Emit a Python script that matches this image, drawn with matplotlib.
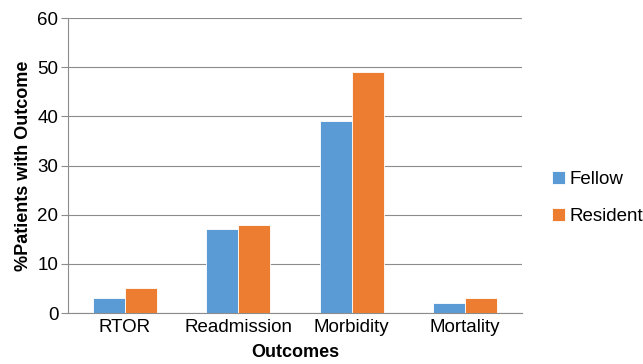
import numpy as np
import matplotlib.pyplot as plt

plt.rcParams['font.family'] = ['Liberation Sans', 'DejaVu Sans']

categories = ['RTOR', 'Readmission', 'Morbidity', 'Mortality']
fellow = [3, 17, 39, 2]
resident = [5, 18, 49, 3]

fig = plt.figure(figsize=(6.43, 3.64), dpi=100)
ax = fig.add_axes([0.1058, 0.1401, 0.706, 0.8104])

x = np.arange(len(categories))
w = 0.28
ax.bar(x - w/2, fellow, w, color='#5B9BD5', edgecolor='white', linewidth=0.6, label='Fellow', zorder=3)
ax.bar(x + w/2, resident, w, color='#ED7D31', edgecolor='white', linewidth=0.6, label='Resident', zorder=3)

ax.set_xlim(-0.5, 3.5)
ax.set_ylim(0, 60)
ax.set_yticks(range(0, 61, 10))
ax.set_xticks(x)
ax.set_xticklabels(categories, fontsize=13.5)
ax.tick_params(axis='y', labelsize=13.5, length=5, color='#8c8c8c', width=0.8, pad=2)
ax.tick_params(axis='x', length=0, pad=4)
ax.grid(axis='y', color='#8c8c8c', linewidth=0.8, zorder=0)
for s in ['top', 'right']:
    ax.spines[s].set_visible(False)
ax.spines['left'].set_color('#8c8c8c')
ax.spines['bottom'].set_color('#8c8c8c')
ax.spines['left'].set_linewidth(0.8)
ax.spines['bottom'].set_linewidth(0.8)

ax.set_xlabel('Outcomes', fontsize=13, fontweight='bold', labelpad=6)
ax.set_ylabel('%Patients with Outcome', fontsize=13, fontweight='bold', labelpad=4)

ax.legend(loc='center left', bbox_to_anchor=(1.066, 0.39), frameon=False, fontsize=13.5,
          handlelength=0.7, handleheight=0.7, handletextpad=0.25, labelspacing=1.05,
          borderaxespad=0, borderpad=0)

fig.savefig('out.png', dpi=100)
